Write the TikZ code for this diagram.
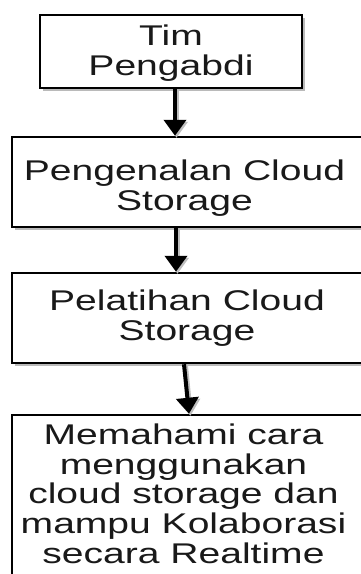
\documentclass[tikz,border=0pt]{standalone}
\usepackage{fontspec}
\setmainfont[FakeStretch=1.37]{Liberation Sans}
\usetikzlibrary{arrows.meta,shadows}
\tikzset{
  flowbox/.style={draw=black, line width=2.5pt, fill=white, inner sep=0pt,
    drop shadow={shadow xshift=2.5pt, shadow yshift=-3pt, opacity=0.45, fill=black!60}},
  flowtext/.style={align=center, inner sep=0pt, anchor=base, text=black!90,
    font=\fontsize{28.5}{29.6}\selectfont},
  flowarrow/.style={line width=4pt, -{Triangle[width=22pt,length=16pt]},
    preaction={draw=black!25, line width=5pt, transform canvas={xshift=1.5pt,yshift=-2pt}, -{Triangle[width=22pt,length=16pt]}}}
}
\begin{document}
\begin{tikzpicture}[x=1pt,y=-1pt]
\useasboundingbox (0,0) rectangle (361,574);
\clip (0,0) rectangle (361,574);
% boxes
\node[flowbox, minimum width=262pt, minimum height=73pt] (b1) at (171,51.5) {};
\node[flowbox, minimum width=358pt, minimum height=90pt] (b2) at (191,182) {};
\node[flowbox, minimum width=358pt, minimum height=90pt] (b3) at (191,318) {};
\node[flowbox, minimum width=358pt, minimum height=170pt] (b4) at (191,500) {};
% texts (anchor base = baseline of last line)
\node[flowtext] (t1) at (171,75) {Tim\\Pengabdi};
\node[flowtext] (t2) at (184.5,210) {Pengenalan Cloud\\Storage};
\node[flowtext] (t3) at (187,340) {Pelatihan Cloud\\Storage};
\node[flowtext] (t4) at (183.5,563) {Memahami cara\\menggunakan\\cloud storage dan\\mampu Kolaborasi\\secara Realtime};
% arrow positions
\coordinate (a1) at (175,0);
\coordinate (a2) at (176,0);
\coordinate (a3s) at (184,0);
\coordinate (a3e) at (189,0);
\draw[flowarrow] (b1.south -| a1) -- (b2.north -| a1);
\draw[flowarrow] (b2.south -| a2) -- (b3.north -| a2);
\draw[flowarrow] (b3.south -| a3s) -- (b4.north -| a3e);
\end{tikzpicture}
\end{document}
